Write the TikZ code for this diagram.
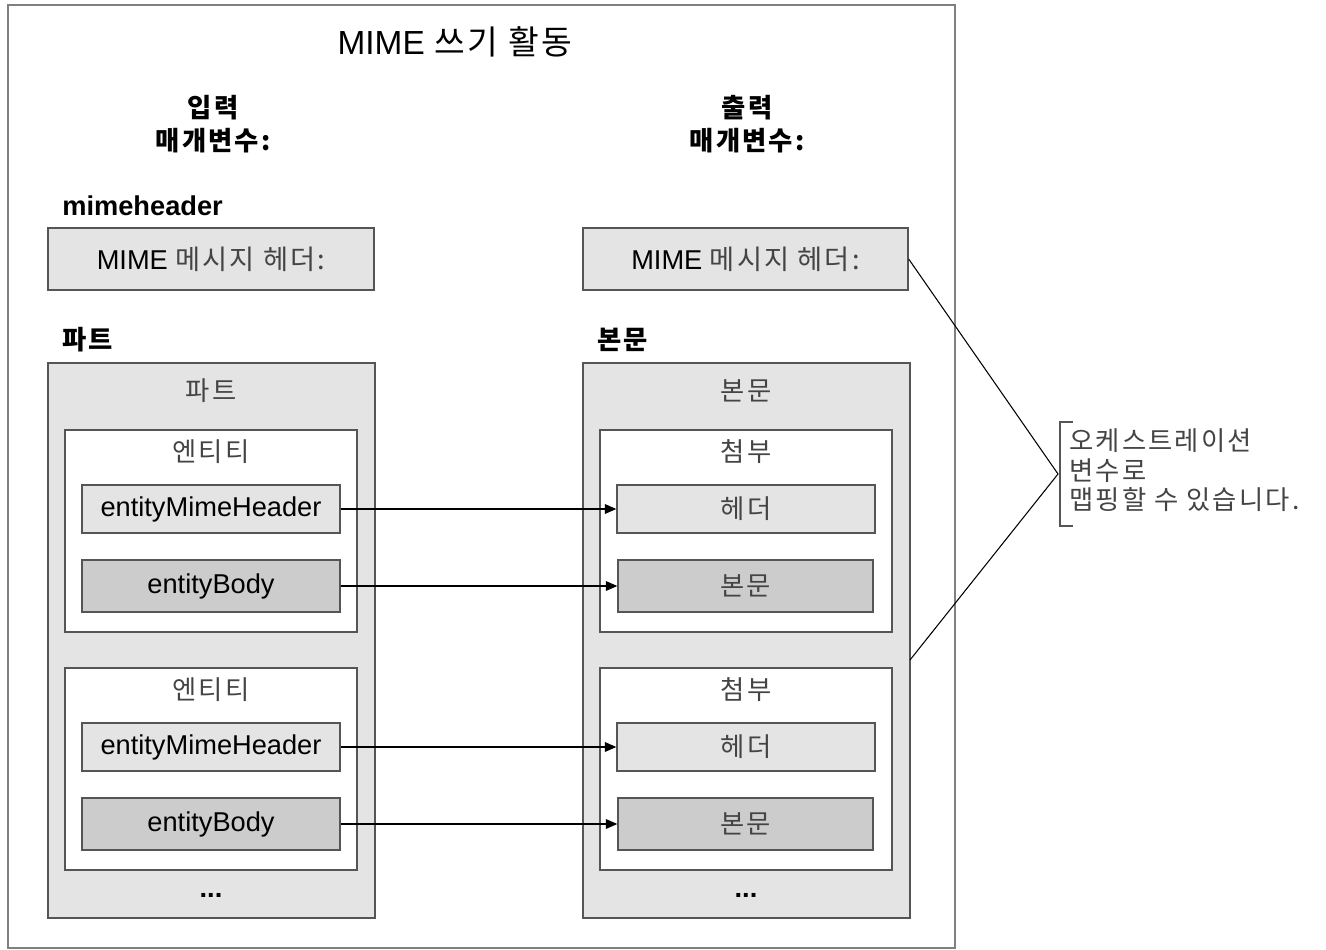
\documentclass[tikz,border=0pt]{standalone}
\usepackage{fontspec}
\setmainfont{Liberation Sans}
\newfontfamily\kr[LetterSpace=8]{Noto Sans CJK KR}
\usetikzlibrary{arrows.meta}
\definecolor{boxline}{HTML}{555555}
\definecolor{lightfill}{HTML}{E4E4E4}
\definecolor{darkfill}{HTML}{CCCCCC}
\definecolor{krtext}{HTML}{444444}
\tikzset{
  txt/.style={font=\fontsize{15.5pt}{18pt}\selectfont, inner sep=0pt},
  krlbl/.style={txt, font=\fontsize{15pt}{18pt}\selectfont\kr, text=krtext},
  head/.style={txt, font=\fontsize{15.5pt}{18pt}\selectfont\bfseries},
  krhead/.style={txt, font=\fontsize{15pt}{18pt}\selectfont\kr\bfseries},
  gbox/.style={draw=boxline, line width=0.8pt, fill=lightfill, inner sep=0pt},
  ibox/.style={draw=boxline, line width=0.8pt, fill=white, inner sep=0pt,
    minimum width=5.84cm, minimum height=4.04cm},
  hbox/.style={gbox, txt, minimum width=5.16cm, minimum height=0.96cm},
  bbox/.style={gbox, txt, fill=darkfill, minimum width=5.16cm, minimum height=1.04cm},
  arr/.style={-{Triangle[length=6.5pt,width=5.5pt]}, line width=0.6pt}
}
\begin{document}
\begin{tikzpicture}[x=0.02cm, y=-0.02cm]
    \useasboundingbox (0,0) rectangle (1326,950);

    % Riquadro esterno
    \draw[gray, line width=1pt] (8,5) rectangle (955,948);
    \node[txt, font=\fontsize{19pt}{22pt}\selectfont] (title) at (455,42) {MIME {\kr 쓰기 활동}};

    % Intestazioni
    \node[krhead, align=center, font=\fontsize{15pt}{18.5pt}\selectfont\kr\bfseries] (inp) at (213,124) {입력\\매개변수:};
    \node[krhead, align=center, font=\fontsize{15pt}{18.5pt}\selectfont\kr\bfseries] (outp) at (747,124) {출력\\매개변수:};
    \node[head, anchor=west] (mh) at (62,206) {mimeheader};
    \node[krhead, anchor=west] (partlbl) at (62,340) {파트};
    \node[krhead, anchor=west] (bodylbl) at (597,340) {본문};

    % Intestazioni MIME
    \node[gbox, txt, minimum width=6.52cm, minimum height=1.24cm] (mimeL) at (211,259) {MIME {\kr\color{krtext} 메시지 헤더:}};
    \node[gbox, txt, minimum width=6.5cm, minimum height=1.24cm] (mimeR) at (745.5,259) {MIME {\kr\color{krtext} 메시지 헤더:}};

    % Contenitori
    \node[gbox, minimum width=6.54cm, minimum height=11.1cm] (part) at (211.5,640.5) {};
    \node[gbox, minimum width=6.54cm, minimum height=11.1cm] (body) at (746.5,640.5) {};
    \node[krlbl] (parttitle) at (211,391) {파트};
    \node[krlbl] (bodytitle) at (746,391) {본문};

    % Entita e allegati
    \foreach \i/\y in {1/531, 2/769} {
        \node[ibox] (ent\i) at (211,\y) {};
        \node[krlbl] (entlbl\i) at (211,\y-79) {엔티티};
        \node[hbox] (emh\i) at (211,\y-22) {entityMimeHeader};
        \node[bbox] (eb\i) at (211,\y+55) {entityBody};
        \node[ibox] (att\i) at (746,\y) {};
        \node[krlbl] (attlbl\i) at (746,\y-79) {첨부};
        \node[hbox, font=\fontsize{15pt}{18pt}\selectfont\kr, text=krtext] (hd\i) at (746,\y-22) {헤더};
        \node[bbox, font=\fontsize{15pt}{18pt}\selectfont\kr, text=krtext, minimum width=5.1cm] (bd\i) at (745.5,\y+55) {본문};
        \draw[arr] (emh\i) -- (hd\i);
        \draw[arr] (eb\i) -- (bd\i);
    }
    \node[head] (dotsL) at (211,895) {...};
    \node[head] (dotsR) at (746,895) {...};

    % Nota
    \coordinate (brk) at (1058,474);
    \coordinate (tapB) at (910,660);
    \draw[line width=0.6pt] (mimeR.east) -- (brk) -- (tapB);
    \draw[line width=0.6pt, boxline] (1073,422) -- (1060,422) -- (1060,526) -- (1073,526);
    \node[krlbl, anchor=north west, align=left, font=\fontsize{15pt}{17pt}\selectfont\kr] (note) at (1069,428) {오케스트레이션\\변수로\\맵핑할 수 있습니다.};
\end{tikzpicture}
\end{document}
